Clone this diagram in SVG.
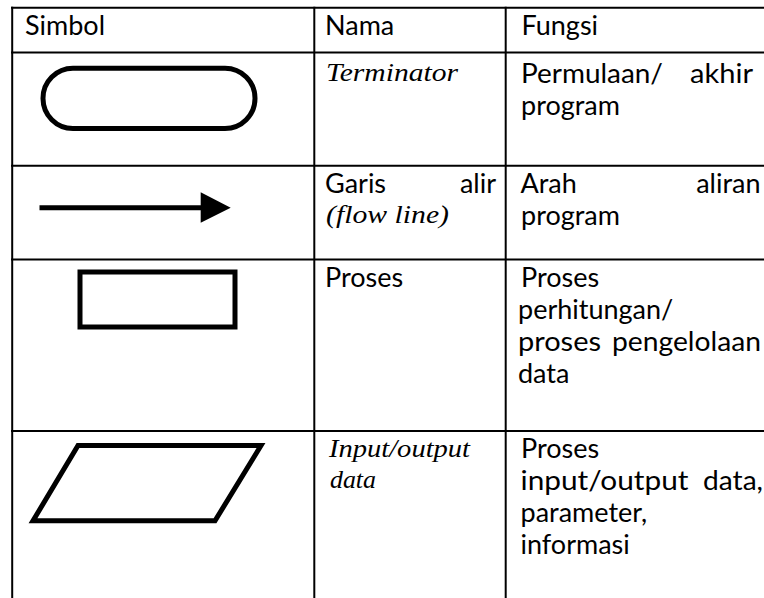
<svg xmlns="http://www.w3.org/2000/svg" width="764" height="598" viewBox="0 0 764 598">
<style>
.grid{stroke:#000;stroke-width:2;fill:none}
.sym{stroke:#000;stroke-width:5;fill:none}
.t{font-family:Lato,"Open Sans","Liberation Sans",sans-serif;font-size:27px;fill:#000}
.r{text-anchor:end}
.i{font-family:"Liberation Serif","DejaVu Serif",serif;font-style:italic;font-size:25px;fill:#000}
</style>
<rect width="764" height="598" fill="#fff"/>
<g id="grid">
<line class="grid" x1="11" y1="7.7" x2="764" y2="7.7"/>
<line class="grid" x1="11" y1="52.5" x2="764" y2="52.5"/>
<line class="grid" x1="11" y1="165.7" x2="764" y2="165.7"/>
<line class="grid" x1="11" y1="259.5" x2="764" y2="259.5"/>
<line class="grid" x1="11" y1="431" x2="764" y2="431"/>
<line class="grid" x1="12.2" y1="6.7" x2="12.2" y2="598"/>
<line class="grid" x1="314.3" y1="6.7" x2="314.3" y2="598"/>
<line class="grid" x1="505.7" y1="6.7" x2="505.7" y2="598"/>
</g>
<g id="header">
<text class="t" x="25" y="35">Simbol</text>
<text class="t" x="325" y="35">Nama</text>
<text class="t" x="521.5" y="35">Fungsi</text>
</g>
<g id="terminator">
<rect class="sym" x="43" y="68.3" width="212" height="60.2" rx="30" ry="30"/>
<text class="i" x="326" y="81" textLength="132" lengthAdjust="spacingAndGlyphs">Terminator</text>
<text class="t" x="521" y="83.3" textLength="142" lengthAdjust="spacingAndGlyphs">Permulaan/</text>
<text class="t r" x="753" y="83.3" textLength="63" lengthAdjust="spacingAndGlyphs">akhir</text>
<text class="t" x="521" y="115.3">program</text>
</g>
<g id="flowline">
<line class="sym" x1="39.5" y1="207.7" x2="203" y2="207.7"/>
<polygon points="200.7,192.3 230.7,207.7 200.7,222.8" fill="#000"/>
<text class="t" x="325" y="193.3">Garis</text>
<text class="t r" x="496" y="193.3">alir</text>
<text class="i" x="326" y="223" textLength="123" lengthAdjust="spacingAndGlyphs">(flow line)</text>
<text class="t" x="520.5" y="193.3">Arah</text>
<text class="t r" x="760.5" y="193.3">aliran</text>
<text class="t" x="521" y="224.8">program</text>
</g>
<g id="proses">
<rect class="sym" x="80" y="272" width="155" height="55"/>
<text class="t" x="325" y="286.7">Proses</text>
<text class="t" x="521" y="286.7">Proses</text>
<text class="t" x="518" y="318.7">perhitungan/</text>
<text class="t" x="518" y="351" textLength="83" lengthAdjust="spacingAndGlyphs">proses</text>
<text class="t r" x="761" y="351" textLength="149" lengthAdjust="spacingAndGlyphs">pengelolaan</text>
<text class="t" x="518" y="383.3">data</text>
</g>
<g id="io">
<polygon class="sym" points="78,445.5 261,445.5 215,520.8 33,520.8" stroke-linejoin="miter"/>
<text class="i" x="329" y="456.7" textLength="141" lengthAdjust="spacingAndGlyphs">Input/output</text>
<text class="i" x="330" y="488.3" textLength="46" lengthAdjust="spacingAndGlyphs">data</text>
<text class="t" x="521" y="458">Proses</text>
<text class="t" x="520.5" y="490" textLength="168" lengthAdjust="spacingAndGlyphs">input/output</text>
<text class="t r" x="763" y="490" textLength="60" lengthAdjust="spacingAndGlyphs">data,</text>
<text class="t" x="520.5" y="521.7">parameter,</text>
<text class="t" x="520.5" y="553.5">informasi</text>
</g>
</svg>
